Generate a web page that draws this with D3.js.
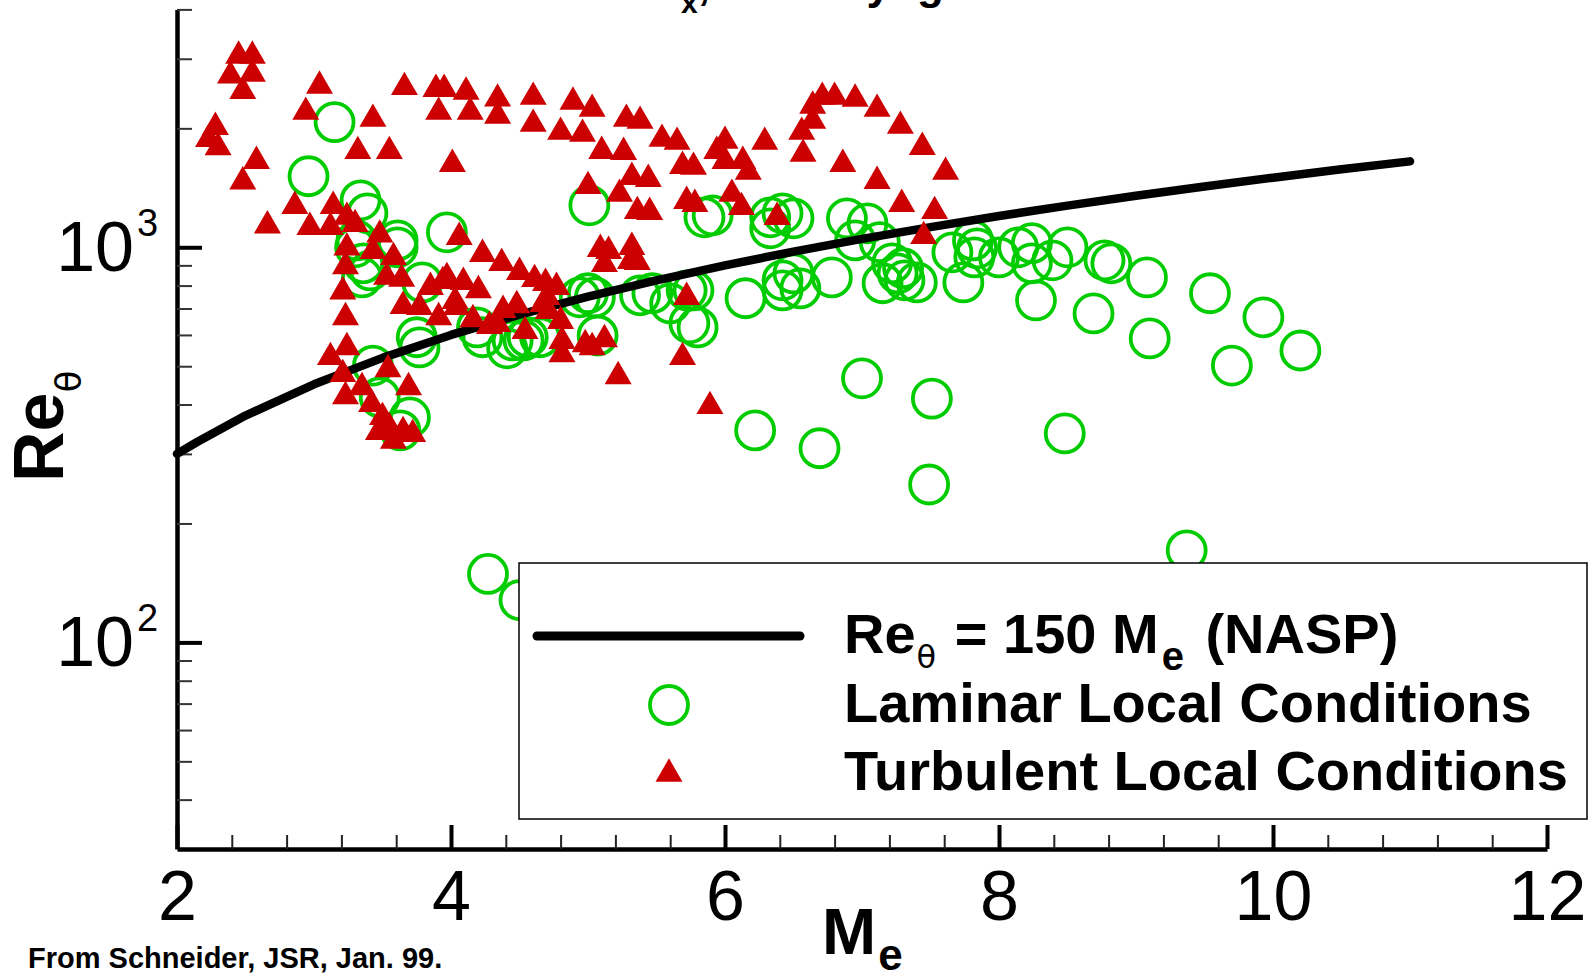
<!DOCTYPE html>
<html>
<head>
<meta charset="utf-8">
<style>
body {
  margin: 0;
  background: #fff;
  overflow: hidden;
}
svg { display: block; }
.num { font-family: "Liberation Sans Narrow", "Liberation Sans", Arial, sans-serif; fill: #000; }
.bold { font-family: "Liberation Sans", Arial, Helvetica, sans-serif; font-weight: bold; fill: #000; }
</style>
</head>
<body>
<svg width="1595" height="976"></svg>
<script src="https://cdnjs.cloudflare.com/ajax/libs/d3/7.8.5/d3.min.js"></script>
<script>

// ---- data ----
var xMajor = [2, 4, 6, 8, 10, 12];
var xMinor = [2.4, 2.8, 3.2, 3.6, 4.4, 4.8, 5.2, 5.6, 6.4, 6.8, 7.2, 7.6, 8.4, 8.8, 9.2, 9.6, 10.4, 10.8, 11.2, 11.6];
var yMajor = [100, 1000];
var yExp = ["2", "3"];
var yMinor = [40, 50, 60, 70, 80, 90, 200, 300, 400, 500, 600, 700, 800, 900, 2000, 3000, 4000];

// Re_theta = 150 M_e (NASP)
var naspM  = [2, 2.15, 2.5, 3, 3.5, 4, 4.5, 5, 5.5, 6, 6.5, 7, 7.5, 8, 8.5, 9, 9.5, 10, 10.5, 11];
var naspRe = [300, 322, 375, 450, 525, 600, 675, 750, 825, 900, 975, 1050, 1125, 1200, 1275, 1350, 1425, 1500, 1575, 1650];

// laminar local conditions (circles)
var lamM = [3.15, 2.96, 3.34, 3.39, 3.31, 3.36, 3.41, 3.61, 3.61, 3.35, 3.97, 3.75, 3.77, 3.43, 3.48, 3.70, 3.63, 3.79,
  4.19, 4.23, 4.45, 4.53, 4.41, 5.01, 4.94, 5.00, 5.05, 4.56, 5.07, 5.38, 5.85, 5.91, 6.33, 6.33, 6.42, 5.47, 5.60,
  5.72, 5.77, 5.74, 5.80, 6.15, 6.42, 6.42, 4.65, 6.50, 6.89, 7.04, 6.95, 7.13, 6.50, 6.55, 6.78, 7.15, 7.22, 7.30,
  7.31, 7.40, 7.26, 7.66, 7.74, 7.81, 7.84, 7.82, 8.00, 8.14, 8.24, 8.24, 8.39, 8.50, 8.77, 8.82, 9.08, 8.27, 8.69,
  9.10, 9.54, 9.93, 9.70, 10.20, 8.48, 9.37, 7.00, 7.51, 6.22, 6.69, 7.49, 4.27, 4.50, 3.30];
var lamRe = [2074, 1513, 1315, 1219, 1041, 911, 874, 1000, 1041, 839, 1091, 592, 558, 502, 417, 371, 344, 815,
  627, 592, 581, 581, 555, 1277, 747, 765, 747, 592, 598, 756, 1191, 1205, 1191, 1117, 1219, 765, 721,
  778, 778, 642, 627, 743, 825, 778, 592, 1184, 1184, 1150, 1041, 1030, 859, 787, 839, 811, 911, 885,
  825, 815, 859, 971, 815, 1041, 994, 943, 943, 1000, 1024, 911, 927, 1000, 927, 911, 839, 734, 680,
  588, 765, 665, 502, 548, 338, 171, 466, 414, 344, 310, 251, 149, 128, 1000];

// turbulent local conditions (triangles)
var turbM = [2.45, 2.55, 2.39, 2.55, 2.48, 3.04, 2.94, 2.28, 2.23, 2.30, 3.43, 3.66, 3.89, 3.95, 4.11, 3.91, 4.14,
  4.34, 4.34, 3.32, 3.55, 4.01, 2.58, 2.48, 2.86, 3.14, 2.66, 2.97, 3.12, 3.24, 3.30, 3.48, 3.24, 3.43, 3.58,
  3.23, 3.64, 3.53, 3.21, 3.23, 4.06, 4.23, 4.37, 4.50, 4.61, 4.69, 4.77, 3.85, 3.94, 4.09, 4.20, 3.97, 3.65,
  3.77, 3.91, 4.04, 4.16, 4.28, 4.38, 4.48, 4.54, 4.67, 4.03, 4.71, 4.34, 4.81, 4.81, 4.98, 5.03, 5.12, 4.70,
  4.80, 3.12, 3.24, 3.21, 3.54, 3.69, 3.23, 3.35, 3.42, 3.50, 3.55, 3.65, 3.72, 3.47, 3.58, 4.60, 4.60, 4.89,
  5.03, 4.80, 4.96, 5.28, 5.38, 5.10, 5.26, 5.54, 5.65, 5.69, 5.77, 6.00, 5.94, 6.00, 6.13, 6.17, 6.29, 5.00,
  5.32, 5.44, 5.23, 5.36, 5.45, 5.72, 5.78, 6.05, 6.12, 6.38, 5.09, 5.15, 5.32, 5.12, 5.31, 5.36, 5.72, 5.69,
  5.22, 5.89, 6.71, 6.80, 6.95, 6.64, 7.11, 6.64, 7.28, 6.56, 7.44, 6.57, 6.86, 7.61, 7.11, 7.29, 7.53, 7.45];
var turbRe = [3120, 3120, 2780, 2810, 2540, 2620, 2250, 2060, 1920, 1830, 2160, 2600, 2570, 2570, 2530, 2250, 2250,
  2430, 2200, 1790, 1790, 1660, 1690, 1500, 1300, 1300, 1160, 1150, 1150, 1220, 1170, 1100, 1020, 1000, 965,
  915, 850, 860, 790, 680, 1085, 983, 932, 885, 849, 830, 811, 811, 839, 835, 796, 859, 726,
  721, 680, 721, 672, 646, 709, 729, 627, 734, 747, 705, 653, 592, 548, 581, 571, 598, 765,
  665, 539, 571, 488, 502, 452, 429, 452, 410, 380, 358, 350, 344, 348, 331, 2456, 2098, 2386,
  2290, 2002, 1979, 2160, 2135, 1792, 1781, 1922, 1889, 1642, 1633, 1900, 1792, 1690, 1690, 1586, 1889, 1460,
  1540, 1522, 1395, 1262, 1255, 1339, 1315, 1395, 1292, 1219, 1012, 1000, 1024, 927, 943, 938, 765, 539,
  482, 405, 2456, 2456, 2428, 2331, 2290, 2135, 2074, 2002, 1834, 1761, 1661, 1586, 1504, 1315, 1262, 1091];

var legendLabels = ["Laminar Local Conditions", "Turbulent Local Conditions"];

var green = "#00cc00", red = "#cc0000";

// ---- layout ----
var svg = d3.select("svg");

var x = d3.scaleLinear().domain([2, 12]).range([177, 1547]);
var y = d3.scaleLog().domain([30, 4000]).range([849, 9.4]);

function tri(s) {
  var h = s * 0.866;
  return "M0," + (-h / 2) + "L" + (s / 2) + "," + (h / 2) + "L" + (-s / 2) + "," + (h / 2) + "Z";
}

// title, mostly above the page edge (only the bottom of it shows)
var title = svg.append("text").attr("class", "bold").attr("font-size", 44);
title.append("tspan").attr("x", 681).attr("y", -1).attr("text-anchor", "end").text("Local Re");
title.append("tspan").attr("x", 681).attr("y", 13).attr("font-size", 30).text("x");
title.append("tspan").attr("y", -1).text(",");
svg.append("text").attr("class", "bold").attr("font-size", 44)
    .attr("x", 891).attr("y", -1).attr("text-anchor", "end").text("Mach by");
svg.append("text").attr("class", "bold").attr("font-size", 44)
    .attr("x", 917).attr("y", -1).text("gas");

// axes
var gx = svg.append("g")
    .attr("transform", "translate(0,849)")
    .call(d3.axisBottom(x).tickValues(xMajor).tickSize(-24).tickSizeOuter(0).tickPadding(21).tickFormat(d3.format("d")));
gx.select(".domain").attr("stroke-width", 4.5);
gx.selectAll(".tick line").attr("stroke-width", 4);
gx.selectAll(".tick text").attr("class", "num").attr("font-size", 70).attr("font-family", null);

var gxm = svg.append("g")
    .attr("transform", "translate(0,849)")
    .call(d3.axisBottom(x).tickValues(xMinor).tickSize(-14).tickSizeOuter(0).tickFormat(""));
gxm.select(".domain").remove();
gxm.selectAll(".tick line").attr("stroke", "#222").attr("stroke-width", 2);

var gy = svg.append("g")
    .attr("transform", "translate(177,0)")
    .call(d3.axisLeft(y).tickValues(yMajor).tickSize(-25).tickSizeOuter(0).tickFormat(""));
gy.select(".domain").attr("stroke-width", 4.5);
gy.selectAll(".tick line").attr("stroke-width", 4);

var gym = svg.append("g")
    .attr("transform", "translate(177,0)")
    .call(d3.axisLeft(y).tickValues(yMinor).tickSize(-15).tickSizeOuter(0).tickFormat(""));
gym.select(".domain").remove();
gym.selectAll(".tick line").attr("stroke", "#333").attr("stroke-width", 2);

// y tick labels 10^n
yMajor.forEach(function(v, i) {
  svg.append("text").attr("class", "num").attr("font-size", 70)
      .attr("x", 134).attr("y", y(v) + 24).attr("text-anchor", "end").text("10");
  svg.append("text").attr("class", "num").attr("font-size", 38)
      .attr("x", 137).attr("y", y(v) - 11).text(yExp[i]);
});

// axis titles
var xt = svg.append("text").attr("class", "bold").attr("font-size", 65).attr("x", 822).attr("y", 954);
xt.append("tspan").text("M");
xt.append("tspan").attr("font-size", 44).attr("dx", 2).attr("dy", 16).text("e");

var yt = svg.append("text").attr("class", "bold").attr("font-size", 70)
    .attr("transform", "translate(63,482) rotate(-90)");
yt.append("tspan").text("Re");
yt.append("tspan").attr("font-size", 36).attr("font-weight", "normal")
    .attr("font-family", "DejaVu Sans, sans-serif").attr("dy", 18).text("θ");

// data
svg.append("g").selectAll("circle")
    .data(lamM)
    .enter().append("circle")
    .attr("cx", function(d) { return x(d); })
    .attr("cy", function(d, i) { return y(lamRe[i]); })
    .attr("r", 19)
    .attr("fill", "none")
    .attr("stroke", green)
    .attr("stroke-width", 3.8);

var line = d3.line()
    .x(function(d) { return x(d); })
    .y(function(d, i) { return y(naspRe[i]); });

svg.append("path")
    .datum(naspM)
    .attr("d", line)
    .attr("fill", "none")
    .attr("stroke", "#000")
    .attr("stroke-width", 8.5)
    .attr("stroke-linecap", "round")
    .attr("stroke-linejoin", "round");

svg.append("g").selectAll("path")
    .data(turbM)
    .enter().append("path")
    .attr("d", tri(27))
    .attr("transform", function(d, i) { return "translate(" + x(d) + "," + y(turbRe[i]) + ")"; })
    .attr("fill", red);

// legend
var lg = svg.append("g");
lg.append("rect").attr("x", 519).attr("y", 563).attr("width", 1068).attr("height", 256)
    .attr("fill", "#fff").attr("stroke", "#000").attr("stroke-width", 1.5);
lg.append("line").attr("x1", 537).attr("x2", 800).attr("y1", 636).attr("y2", 636)
    .attr("stroke", "#000").attr("stroke-width", 9).attr("stroke-linecap", "round");
lg.append("circle").attr("cx", 669).attr("cy", 705).attr("r", 19)
    .attr("fill", "none").attr("stroke", green).attr("stroke-width", 3.8);
lg.append("path").attr("d", tri(27)).attr("transform", "translate(669,770)").attr("fill", red);

var l1 = lg.append("text").attr("class", "bold").attr("font-size", 56).attr("x", 844).attr("y", 653);
l1.append("tspan").text("Re");
l1.append("tspan").attr("font-size", 32).attr("font-weight", "normal")
    .attr("font-family", "DejaVu Sans, sans-serif").attr("dx", 1).attr("dy", 15).text("θ");
l1.append("tspan").attr("dx", 3).attr("dy", -15).text(" = 150 M");
l1.append("tspan").attr("font-size", 40).attr("dx", 3).attr("dy", 17).text("e");
l1.append("tspan").attr("dx", 6).attr("dy", -17).text(" (NASP)");

lg.selectAll("text.lab")
    .data(legendLabels)
    .enter().append("text")
    .attr("class", "bold lab")
    .attr("font-size", 56)
    .attr("x", 844)
    .attr("y", function(d, i) { return 722 + i * 68; })
    .text(function(d) { return d; });

// source note
svg.append("text").attr("class", "bold").attr("font-size", 29)
    .attr("x", 28).attr("y", 968).text("From Schneider, JSR, Jan. 99.");

</script>
</body>
</html>
